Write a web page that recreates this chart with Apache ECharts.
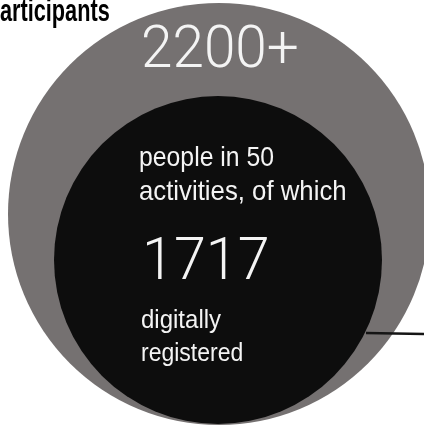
<!DOCTYPE html>
<html>
<head>
<meta charset="utf-8">
<script src="https://cdn.jsdelivr.net/npm/echarts@6/dist/echarts.min.js"></script>
<style>html,body{margin:0;padding:0;background:#fff;}#c{width:424px;height:428px;}</style>
</head>
<body>
<div id="c"></div>
<script>
// Data
const titleText = ['articipants'];
const totalParticipants = [2200];
const activityCount = [50];
const digitallyRegistered = [1717];
const seriesNames = ['Participants', 'Digitally registered'];

const chart = echarts.init(document.getElementById('c'), null, {renderer: 'canvas'});

const white = '#f4f4f4';
const bodyFont = '"Liberation Sans", Arial, sans-serif';
const numFont = 'Roboto, "Liberation Sans", sans-serif';

chart.setOption({
  animation: false,
  backgroundColor: '#ffffff',
  series: [
    {
      type: 'pie',
      name: seriesNames[0],
      center: [219, 214],
      radius: [0, 211],
      silent: true,
      label: {show: false},
      labelLine: {show: false},
      itemStyle: {color: '#757171', borderWidth: 0},
      emphasis: {disabled: true},
      data: totalParticipants.map(v => ({name: seriesNames[0], value: v}))
    },
    {
      type: 'pie',
      name: seriesNames[1],
      center: [218, 260],
      radius: [0, 164],
      silent: true,
      label: {show: false},
      labelLine: {show: false},
      itemStyle: {color: '#0d0d0d', borderWidth: 0},
      emphasis: {disabled: true},
      data: digitallyRegistered.map(v => ({name: seriesNames[1], value: v}))
    }
  ],
  graphic: [
    {type: 'line', silent: true, z: 10,
      shape: {x1: 366, y1: 333, x2: 424, y2: 334},
      style: {stroke: '#151515', lineWidth: 2.5}},
    {type: 'text', x: 0, y: 12, scaleX: 0.7, z: 20,
      style: {text: titleText[0], fontSize: 31, fontWeight: 'bold', fontFamily: bodyFont, fill: '#000', verticalAlign: 'middle', align: 'left'}},
    {type: 'text', x: 141, y: 52, scaleX: 0.945, z: 20,
      style: {text: totalParticipants[0] + '+', fontSize: 60, fontWeight: 300, fontFamily: numFont, fill: white, verticalAlign: 'middle', align: 'left'}},
    {type: 'text', x: 139, y: 158, scaleX: 0.885, z: 20,
      style: {text: 'people in ' + activityCount[0], fontSize: 28, fontFamily: bodyFont, fill: white, verticalAlign: 'middle', align: 'left'}},
    {type: 'text', x: 139, y: 192, scaleX: 0.92, z: 20,
      style: {text: 'activities, of which', fontSize: 28, fontFamily: bodyFont, fill: white, verticalAlign: 'middle', align: 'left'}},
    {type: 'text', x: 142, y: 264, scaleX: 0.975, z: 20,
      style: {text: String(digitallyRegistered[0]), fontSize: 59, fontWeight: 300, fontFamily: numFont, fill: white, verticalAlign: 'middle', align: 'left'}},
    {type: 'text', x: 141, y: 321, scaleX: 0.96, z: 20,
      style: {text: 'digitally', fontSize: 25, fontFamily: bodyFont, fill: white, verticalAlign: 'middle', align: 'left'}},
    {type: 'text', x: 141, y: 354, scaleX: 0.92, z: 20,
      style: {text: 'registered', fontSize: 25, fontFamily: bodyFont, fill: white, verticalAlign: 'middle', align: 'left'}}
  ]
});
</script>
</body>
</html>
